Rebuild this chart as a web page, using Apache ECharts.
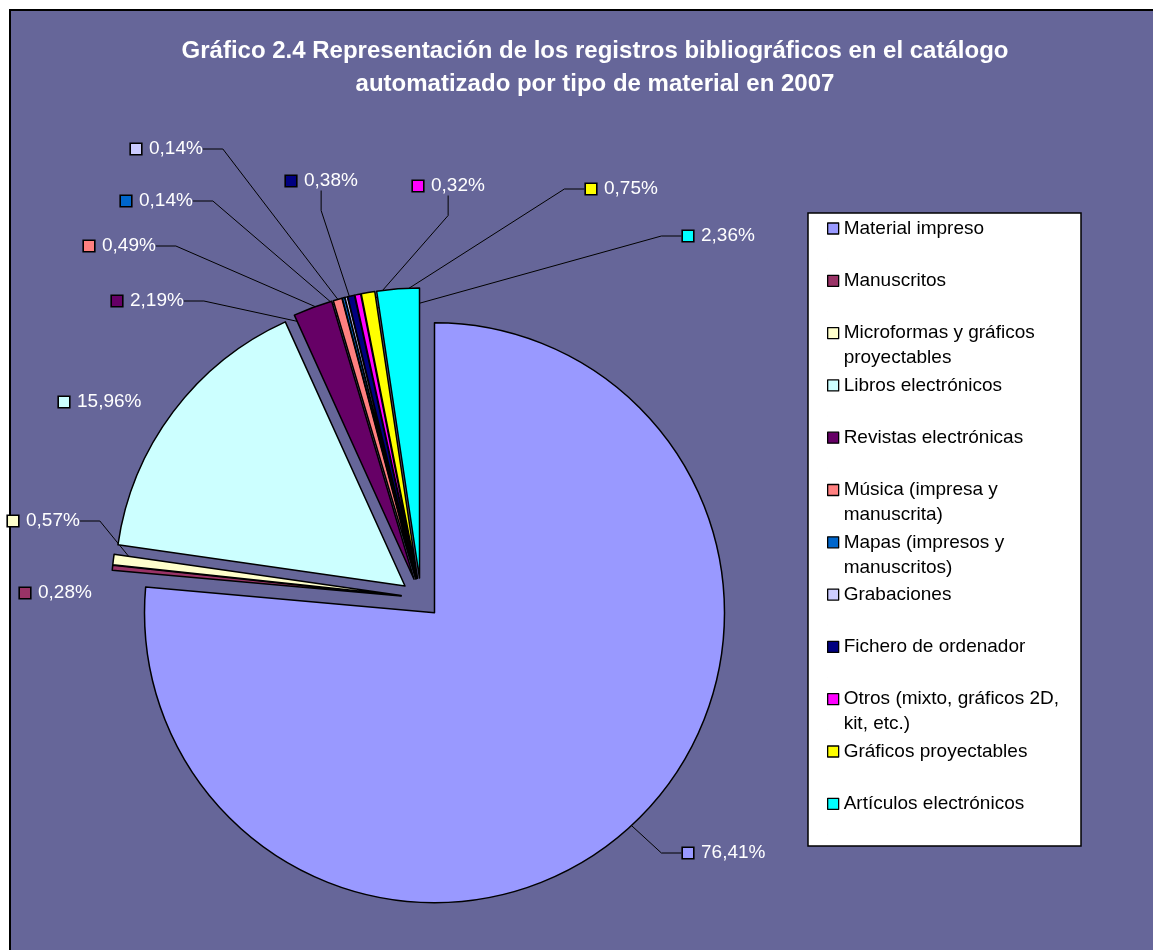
<!DOCTYPE html>
<html>
<head>
<meta charset="utf-8">
<script src="https://cdn.jsdelivr.net/npm/echarts@6/dist/echarts.min.js"></script>
<style>
  html, body { margin: 0; padding: 0; background: #fff; }
  #main { width: 1153px; height: 950px; }
</style>
</head>
<body>
<div id="main"></div>
<script>
var categories = [
  'Material impreso', 'Manuscritos', 'Microformas y gráficos proyectables',
  'Libros electrónicos', 'Revistas electrónicas', 'Música (impresa y manuscrita)',
  'Mapas (impresos y manuscritos)', 'Grabaciones', 'Fichero de ordenador',
  'Otros (mixto, gráficos 2D, kit, etc.)', 'Gráficos proyectables', 'Artículos electrónicos'
];
var percents = [76.41, 0.28, 0.57, 15.96, 2.19, 0.49, 0.14, 0.14, 0.38, 0.32, 0.75, 2.36];
var colors = ['#9999FF', '#993366', '#FFFFCC', '#CCFFFF', '#660066', '#FF8080',
  '#0066CC', '#CCCCFF', '#000080', '#FF00FF', '#FFFF00', '#00FFFF'];

// legend text as it wraps in the original box
var legendText = {
  'Microformas y gráficos proyectables': 'Microformas y gráficos\nproyectables',
  'Música (impresa y manuscrita)': 'Música (impresa y\nmanuscrita)',
  'Mapas (impresos y manuscritos)': 'Mapas (impresos y\nmanuscritos)',
  'Otros (mixto, gráficos 2D, kit, etc.)': 'Otros (mixto, gráficos 2D,\nkit, etc.)'
};

// where each data label sits (left of key square, vertical middle)
var labelPos = [
  [683, 853], [20, 593], [8, 521], [59, 402], [112, 301], [84, 246],
  [121, 201], [131, 149], [286, 181], [413, 186], [586, 189], [683, 236]
];
var noLine = [1, 3];

var chart = echarts.init(document.getElementById('main'), null, { renderer: 'canvas' });

var rich = {
  t: { color: '#fff', fontSize: 19, fontFamily: 'Liberation Sans', padding: [0, 0, 0, 8] }
};
colors.forEach(function (c, i) {
  rich['s' + i] = { width: 10, height: 10, backgroundColor: c, borderColor: '#000', borderWidth: 1.6 };
});

var pieCenter = [421, 598];
var pieRadius = 290;

// exploded slices
var sliceData = categories.map(function (name, i) {
  return { name: name, value: percents[i], selected: true, itemStyle: { color: colors[i] } };
});

// same slices, unexploded and invisible, carrying the labels and leader lines
var labelData = categories.map(function (name, i) {
  return {
    name: name,
    value: percents[i],
    labelLine: { show: noLine.indexOf(i) < 0 }
  };
});

var option = {
  backgroundColor: '#fff',
  animation: false,
  graphic: [{
    type: 'rect',
    z: -10,
    shape: { x: 10, y: 10, width: 1160, height: 960 },
    style: { fill: '#666699', stroke: '#000', lineWidth: 2 }
  }, {
    type: 'rect',
    z: -9,
    shape: { x: 808, y: 213, width: 273, height: 633 },
    style: { fill: '#fff', stroke: '#000', lineWidth: 1.5 }
  }],
  title: {
    text: 'Gráfico 2.4 Representación de los registros bibliográficos en el catálogo\nautomatizado por tipo de material en 2007',
    left: 590,
    top: 30,
    textAlign: 'center',
    textStyle: {
      color: '#fff',
      fontFamily: 'Liberation Sans',
      fontWeight: 'bold',
      fontSize: 24,
      lineHeight: 33
    }
  },
  legend: {
    orient: 'vertical',
    left: 827,
    top: 216,
    padding: 0,
    itemGap: 2.3,
    itemWidth: 11,
    itemHeight: 36,
    icon: 'path://M0,0h11v11h-11zM0,36h0.01',
    itemStyle: { borderColor: '#000', borderWidth: 1.3 },
    selectedMode: false,
    data: categories,
    formatter: function (name) {
      return legendText[name] || (name + '\n ');
    },
    textStyle: {
      color: '#000',
      fontFamily: 'Liberation Sans',
      fontSize: 19,
      lineHeight: 25
    }
  },
  series: [{
    type: 'pie',
    z: 3,
    center: pieCenter,
    radius: pieRadius,
    startAngle: 90,
    clockwise: true,
    selectedMode: 'multiple',
    selectedOffset: 20,
    avoidLabelOverlap: false,
    itemStyle: { borderColor: '#000', borderWidth: 1.5 },
    select: { itemStyle: { borderColor: '#000', borderWidth: 1.5 } },
    emphasis: { disabled: true },
    label: { show: false },
    labelLine: { show: false },
    data: sliceData
  }, {
    type: 'pie',
    z: 2,
    silent: true,
    center: pieCenter,
    radius: pieRadius,
    startAngle: 90,
    clockwise: true,
    avoidLabelOverlap: false,
    itemStyle: { color: 'rgba(0,0,0,0)', borderWidth: 0 },
    emphasis: { disabled: true },
    label: {
      show: true,
      position: 'outside',
      formatter: function (p) {
        return '{s' + p.dataIndex + '|}{t|' + p.value.toFixed(2).replace('.', ',') + '%}';
      },
      rich: rich
    },
    labelLine: {
      show: true,
      length: 10,
      length2: 20,
      lineStyle: { color: '#000', width: 1 }
    },
    labelLayout: function (params) {
      var p = labelPos[params.dataIndex];
      return { x: p[0], y: p[1], align: 'left', verticalAlign: 'middle' };
    },
    data: labelData
  }]
};

chart.setOption(option);
</script>
</body>
</html>
